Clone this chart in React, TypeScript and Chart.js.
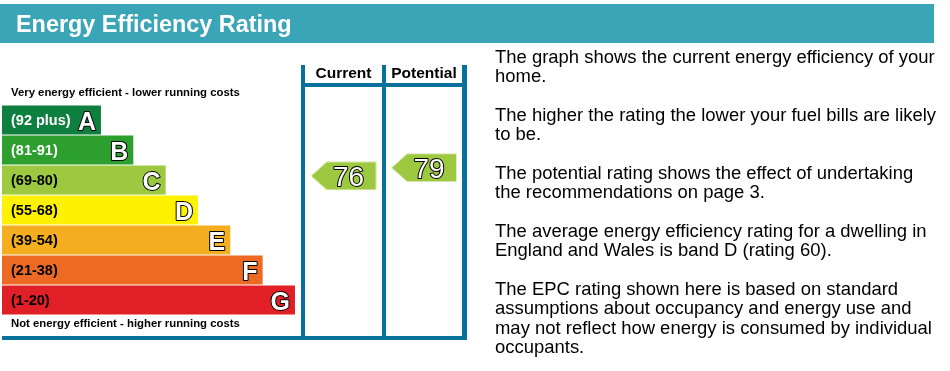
import React, { useEffect, useRef } from 'react';
import { Chart, registerables } from 'chart.js';

Chart.register(...registerables);

// ---- data ----
const bandLetters = ['A', 'B', 'C', 'D', 'E', 'F', 'G'];
const bandRanges = ['(92 plus)', '(81-91)', '(69-80)', '(55-68)', '(39-54)', '(21-38)', '(1-20)'];
const bandMin = [92, 81, 69, 55, 39, 21, 1];
const bandMax = [100, 91, 80, 68, 54, 38, 20];
const bandLength = [1, 2, 3, 4, 5, 6, 7];
const bandColors = ['#0f7f3f', '#2c9f2e', '#9cc93f', '#fff200', '#f4ae1f', '#ed6a24', '#e11f26'];
const bandTextColors = ['#ffffff', '#ffffff', '#000000', '#000000', '#000000', '#000000', '#000000'];
const columnLabels = ['Current', 'Potential'];
const ratings = [76, 79];
const titleText = 'Energy Efficiency Rating';
const topNote = 'Very energy efficient - lower running costs';
const bottomNote = 'Not energy efficient - higher running costs';
const infoLines = [
  'The graph shows the current energy efficiency of your',
  'home.',
  '',
  'The higher the rating the lower your fuel bills are likely',
  'to be.',
  '',
  'The potential rating shows the effect of undertaking',
  'the recommendations on page 3.',
  '',
  'The average energy efficiency rating for a dwelling in',
  'England and Wales is band D (rating 60).',
  '',
  'The EPC rating shown here is based on standard',
  'assumptions about occupancy and energy use and',
  'may not reflect how energy is consumed by individual',
  'occupants.',
];

// ---- axis ranges ----
const BAR_MIN = -2.06;
const BAR_MAX = 12.32;
const COL_MIN = -4.242;
const COL_MAX = 1.534;

// ---- styles ----
const FONT = '"Liberation Sans", Arial, sans-serif';
const HEADER_COLOR = '#3ba5b8';
const FRAME_COLOR = '#07709b';

function bandIndexOf(r: number) {
  for (let i = 0; i < bandMin.length; i++) if (r >= bandMin[i] && r <= bandMax[i]) return i;
  return bandMin.length - 1;
}
function ratingPos(r: number) {
  const i = bandIndexOf(r);
  return i - 0.5 + (bandMax[i] - r) / (bandMax[i] - bandMin[i]);
}

function makeArrow(color: string) {
  const c = document.createElement('canvas');
  c.width = 66;
  c.height = 29;
  const g = c.getContext('2d')!;
  g.fillStyle = color;
  g.beginPath();
  g.moveTo(0.5, 14.5);
  g.lineTo(16, 0.5);
  g.lineTo(65.5, 0.5);
  g.lineTo(65.5, 28.5);
  g.lineTo(16, 28.5);
  g.closePath();
  g.fill();
  g.strokeStyle = 'rgba(255,255,255,0.45)';
  g.lineWidth = 1;
  g.stroke();
  return c;
}

const decorPlugin = {
  id: 'decor',
  beforeDraw(chart: any) {
    const ctx = chart.ctx;
    ctx.save();
    ctx.fillStyle = '#ffffff';
    ctx.fillRect(0, 0, chart.width, chart.height);
    // header band
    ctx.fillStyle = HEADER_COLOR;
    ctx.fillRect(0, 4, 934, 39);
    ctx.fillStyle = '#ffffff';
    ctx.font = `bold 23.4px ${FONT}`;
    ctx.textBaseline = 'alphabetic';
    ctx.textAlign = 'left';
    ctx.fillText(titleText, 16, 32);
    // info text on right
    ctx.fillStyle = '#000000';
    ctx.font = `16px ${FONT}`;
    const w16 = ctx.measureText(infoLines[0]).width;
    const fs = (16 * 440) / w16;
    ctx.font = `${fs}px ${FONT}`;
    infoLines.forEach((line, i) => {
      if (line) ctx.fillText(line, 495, 63 + i * 19.33);
    });
    ctx.restore();
  },
  afterDatasetsDraw(chart: any) {
    const ctx = chart.ctx;
    const area = chart.chartArea;
    ctx.save();
    // band labels
    const meta = chart.getDatasetMeta(0);
    meta.data.forEach((bar: any, i: number) => {
      ctx.textBaseline = 'alphabetic';
      ctx.textAlign = 'left';
      ctx.font = `bold 14.5px ${FONT}`;
      ctx.fillStyle = bandTextColors[i];
      ctx.fillText(bandRanges[i], bar.base + 9, bar.y + 5);
      ctx.textAlign = 'right';
      ctx.font = `bold 25px ${FONT}`;
      ctx.lineWidth = 2;
      ctx.strokeStyle = '#000000';
      ctx.lineJoin = 'round';
      ctx.strokeText(bandLetters[i], bar.x - 5, bar.y + 10);
      ctx.fillStyle = '#ffffff';
      ctx.fillText(bandLetters[i], bar.x - 5, bar.y + 10);
    });
    // notes
    ctx.fillStyle = '#000000';
    ctx.textAlign = 'left';
    ctx.font = `bold 10px ${FONT}`;
    const wn = ctx.measureText(topNote).width;
    ctx.font = `bold ${(10 * 229) / wn}px ${FONT}`;
    ctx.fillText(topNote, area.left + 9, area.top - 9);
    ctx.fillText(bottomNote, area.left + 9, area.bottom + 12);
    // arrow values
    const am = chart.getDatasetMeta(1);
    am.data.forEach((pt: any, i: number) => {
      ctx.font = `28px ${FONT}`;
      ctx.textAlign = 'center';
      ctx.lineWidth = 2;
      ctx.strokeStyle = '#000000';
      ctx.lineJoin = 'round';
      ctx.strokeText(String(ratings[i]), pt.x + 5, pt.y + 10.5);
      ctx.fillStyle = '#ffffff';
      ctx.fillText(String(ratings[i]), pt.x + 5, pt.y + 10.5);
    });
    // frame
    const xc = chart.scales.xCol;
    const edges = [-0.5, 0.5, 1.5].map((v) => xc.getPixelForValue(v));
    const top = area.top - 40;
    const bottom = area.bottom + 25;
    ctx.fillStyle = FRAME_COLOR;
    edges.forEach((e, k) => {
      const w = k === 2 ? 5 : 4;
      ctx.fillRect(Math.round(e - 2), top, w, bottom - top);
    });
    ctx.fillRect(Math.round(edges[0] - 2), area.top - 22, Math.round(edges[2] + 3) - Math.round(edges[0] - 2), 4);
    ctx.fillRect(area.left, area.bottom + 21, Math.round(edges[2] + 3) - area.left, 4);
    // column headers
    ctx.fillStyle = '#000000';
    ctx.font = `bold 15.5px ${FONT}`;
    ctx.textAlign = 'center';
    columnLabels.forEach((lab, i) => {
      ctx.fillText(lab, xc.getPixelForValue(i), area.top - 27);
    });
    ctx.restore();
  },
};

export default function App() {
  const ref = useRef<HTMLCanvasElement | null>(null);
  useEffect(() => {
    if (!ref.current) return;
    const arrows = ratings.map((r) => makeArrow(bandColors[bandIndexOf(r)]));
    const chart = new Chart(ref.current, {
      type: 'bar',
      data: {
        labels: bandLetters,
        datasets: [
          {
            type: 'bar',
            indexAxis: 'y',
            data: bandLength,
            base: BAR_MIN,
            grouped: false,
            backgroundColor: bandColors,
            borderWidth: 0,
            categoryPercentage: 1,
            barPercentage: 29 / 30,
            xAxisID: 'x',
            yAxisID: 'y',
          } as any,
          {
            type: 'scatter',
            data: ratings.map((r, i) => ({ x: i, y: ratingPos(r) })),
            pointStyle: arrows as any,
            pointRadius: 10,
            xAxisID: 'xCol',
            yAxisID: 'yPos',
            clip: false,
          } as any,
        ],
      },
      options: {
        responsive: false,
        animation: false,
        devicePixelRatio: 1,
        events: [],
        layout: { autoPadding: false, padding: { left: 2, right: 483, top: 105, bottom: 56 } },
        plugins: { legend: { display: false }, tooltip: { enabled: false } },
        scales: {
          x: {
            type: 'linear', min: BAR_MIN, max: BAR_MAX, display: false, offset: false,
            bounds: 'data', grid: { offset: false },
          },
          y: { type: 'category', labels: bandLetters, display: false, offset: true },
          xCol: {
            type: 'linear', axis: 'x', position: 'bottom', min: COL_MIN, max: COL_MAX, display: false,
            offset: false, bounds: 'data', grid: { offset: false },
          },
          yPos: {
            type: 'linear', axis: 'y', position: 'left', min: -0.5, max: 6.5, reverse: true, display: false,
            offset: false, bounds: 'data',
          },
        } as any,
      },
      plugins: [decorPlugin],
    });
    return () => chart.destroy();
  }, []);
  return (
    <div style={{ position: 'absolute', left: 0, top: 0, width: 950, height: 371, background: '#fff' }}>
      <canvas ref={ref} width={950} height={371} />
    </div>
  );
}
